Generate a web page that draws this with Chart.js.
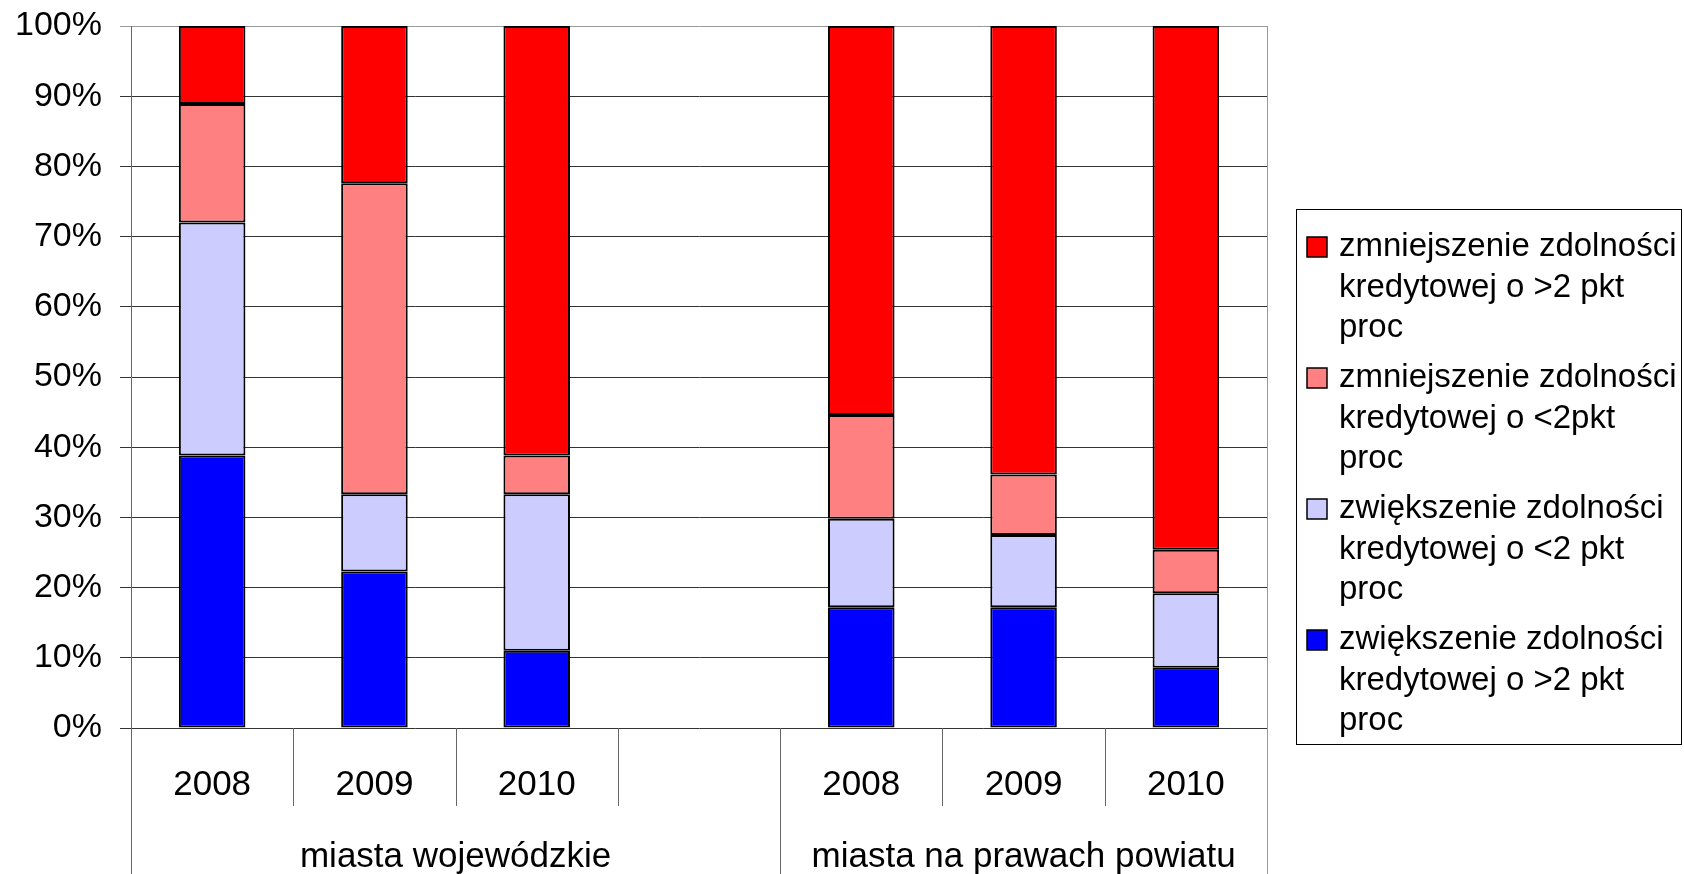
<!DOCTYPE html>
<html>
<head>
<meta charset="utf-8">
<script src="https://cdn.jsdelivr.net/npm/chart.js@4/dist/chart.umd.min.js"></script>
<style>
  html, body { margin: 0; padding: 0; background: #fff; }
  canvas { display: block; }
</style>
</head>
<body>
<canvas id="wykres" width="1684" height="874"></canvas>
<script>
// kategorie (pusta kolumna rozdziela grupy)
const lata = ["2008", "2009", "2010", "", "2008", "2009", "2010"];
const grupy = ["miasta wojewódzkie", "miasta na prawach powiatu"];
const grupyOd = [0, 4];
const grupyDo = [3, 6];

// udzialy w % (od dołu stosu)
const zwiekszenieDuze = [38.8, 22.3, 11.0, null, 17.2, 17.2, 8.6];
const zwiekszenieMale = [33.2, 11.0, 22.3, null, 12.6, 10.3, 10.6];
const zmniejszenieMale = [16.9, 44.3, 5.5, null, 14.8, 8.6, 6.2];
const zmniejszenieDuze = [11.1, 22.4, 61.2, null, 55.4, 63.9, 74.6];

const yTicks = [0, 10, 20, 30, 40, 50, 60, 70, 80, 90, 100];

const FONT = "'Liberation Sans', Arial, sans-serif";
Chart.defaults.font.family = FONT;
Chart.defaults.color = "#000";

const seria = (label, data, color) => ({
  label,
  data,
  backgroundColor: color,
  borderColor: "#000",
  borderWidth: 2,
  borderSkipped: false,
  categoryPercentage: 1,
  barPercentage: 0.41,
});

// linie podziału osi X i podpisy grup
const osPlugin = {
  id: "osGrupy",
  afterDraw(chart) {
    const { ctx, chartArea, scales } = chart;
    const x = scales.x;
    const dol = chart.height;
    const granica = (i) => {
      if (i <= 0) return chartArea.left;
      if (i >= lata.length) return chartArea.right;
      return (x.getPixelForValue(i - 1) + x.getPixelForValue(i)) / 2;
    };
    ctx.save();
    ctx.lineWidth = 1;
    // prawa krawędź i przedłużenie lewej osi
    ctx.strokeStyle = "#999";
    ctx.beginPath();
    ctx.moveTo(Math.round(chartArea.right) + 0.5, chartArea.top);
    ctx.lineTo(Math.round(chartArea.right) + 0.5, dol);
    ctx.stroke();
    ctx.strokeStyle = "#666";
    ctx.beginPath();
    ctx.moveTo(Math.round(chartArea.left) + 0.5, chartArea.bottom);
    ctx.lineTo(Math.round(chartArea.left) + 0.5, dol);
    ctx.stroke();
    for (let i = 1; i < lata.length; i++) {
      const px = Math.round(granica(i)) + 0.5;
      const dlugi = grupyOd.includes(i);
      ctx.beginPath();
      ctx.moveTo(px, chartArea.bottom);
      ctx.lineTo(px, dlugi ? dol : chartArea.bottom + 78);
      ctx.stroke();
    }
    ctx.fillStyle = "#000";
    ctx.font = "35px " + FONT;
    ctx.textAlign = "center";
    ctx.textBaseline = "middle";
    grupy.forEach((g, k) => {
      const cx = (granica(grupyOd[k]) + granica(grupyDo[k] + 1)) / 2;
      ctx.fillText(g, cx, chartArea.bottom + 129);
    });
    ctx.restore();
  },
};

// legenda w ramce po prawej
const legendaPlugin = {
  id: "legendaRamka",
  afterDraw(chart) {
    const { ctx } = chart;
    const bx = 1296, by = 209, bw = 385, bh = 535;
    ctx.save();
    ctx.fillStyle = "#fff";
    ctx.fillRect(bx, by, bw, bh);
    ctx.strokeStyle = "#000";
    ctx.lineWidth = 1;
    ctx.strokeRect(bx + 0.5, by + 0.5, bw, bh);
    ctx.font = "33px " + FONT;
    ctx.textAlign = "left";
    ctx.textBaseline = "middle";
    const zbiory = chart.data.datasets.slice().reverse();
    zbiory.forEach((ds, k) => {
      const y0 = by + 38 + k * 131;
      ctx.fillStyle = ds.backgroundColor;
      ctx.fillRect(1307, y0 - 10, 20, 20);
      ctx.strokeStyle = "#000";
      ctx.lineWidth = 1.5;
      ctx.strokeRect(1307, y0 - 10, 20, 20);
      ctx.fillStyle = "#000";
      ds.label.forEach((linia, j) => ctx.fillText(linia, 1339, y0 + j * 40.7));
    });
    ctx.restore();
  },
};

new Chart(document.getElementById("wykres"), {
  type: "bar",
  data: {
    labels: lata,
    datasets: [
      seria(["zwiększenie zdolności", "kredytowej o >2 pkt", "proc"], zwiekszenieDuze, "#0000FF"),
      seria(["zwiększenie zdolności", "kredytowej o <2 pkt", "proc"], zwiekszenieMale, "#CCCCFF"),
      seria(["zmniejszenie zdolności", "kredytowej o <2pkt", "proc"], zmniejszenieMale, "#FF8080"),
      seria(["zmniejszenie zdolności", "kredytowej o >2 pkt", "proc"], zmniejszenieDuze, "#FF0000"),
    ],
  },
  options: {
    responsive: false,
    animation: false,
    layout: { padding: { left: 0, right: 417, top: 26, bottom: 0 } },
    plugins: {
      legend: { display: false },
      tooltip: { enabled: false },
    },
    scales: {
      x: {
        stacked: true,
        grid: { display: false },
        border: { display: false },
        ticks: { font: { size: 35 }, color: "#000", padding: 28, maxRotation: 0, autoSkip: false },
        afterFit: (s) => { s.height = 146; },
      },
      y: {
        stacked: true,
        min: 0,
        max: 100,
        afterBuildTicks: (s) => { s.ticks = yTicks.map((v) => ({ value: v })); },
        ticks: { font: { size: 34 }, color: "#000", padding: 18, callback: (v) => v + "%" },
        grid: {
          color: (c) => (c.tick && c.tick.value === 100 ? "#999" : "#333"),
          tickLength: 11,
          lineWidth: 1,
        },
        border: { color: "#666", width: 1 },
        afterFit: (s) => { s.width = 131; s.paddingTop = 0; s.paddingBottom = 0; },
      },
    },
  },
  plugins: [osPlugin, legendaPlugin],
});
</script>
</body>
</html>
